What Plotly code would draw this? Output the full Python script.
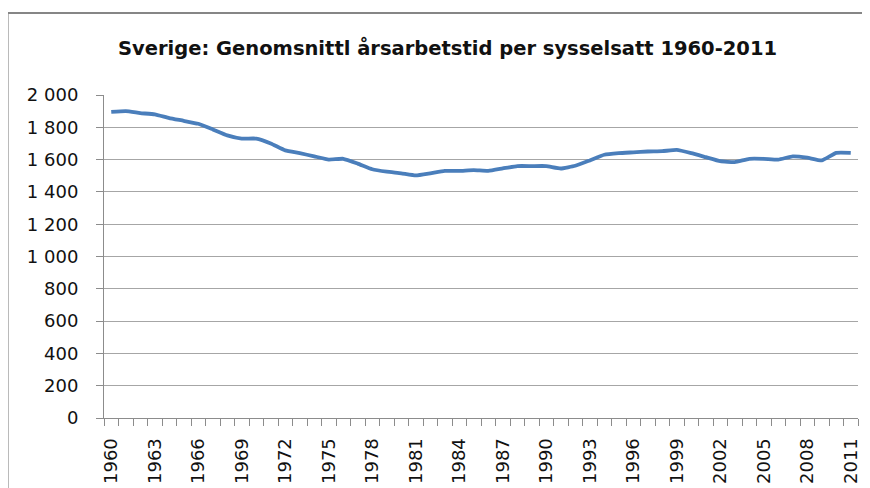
import plotly.graph_objects as go

years = list(range(1960, 2012))
hours = [1895, 1900, 1888, 1880, 1857, 1840, 1822, 1787, 1750, 1730,
         1730, 1700, 1657, 1640, 1620, 1600, 1605, 1575, 1540, 1525,
         1515, 1502, 1515, 1530, 1530, 1535, 1530, 1545, 1560, 1560,
         1560, 1545, 1562, 1595, 1630, 1640, 1645, 1650, 1652, 1660,
         1640, 1615, 1590, 1585, 1605, 1605, 1600, 1620, 1612, 1595,
         1642, 1642]
label_years = list(range(1960, 2012, 3))
y_ticks = list(range(0, 2001, 200))

title = "Sverige: Genomsnittl årsarbetstid per sysselsatt 1960-2011"

# page body has an 8px margin; work in page coordinates minus 8
OFF = 8
L, R, T, B = 103.5 - OFF, 858 - OFF, 95 - OFF, 418 - OFF
W, H = 870 - OFF, 488 - OFF

fig = go.Figure()
fig.add_trace(go.Scatter(x=years, y=hours, mode="lines",
                         line=dict(color="#4A7EBB", width=3.8, shape="spline", smoothing=0.4),
                         hoverinfo="x+y"))

font_main = "DejaVu Sans"
fig.update_layout(
    width=W, height=H,
    margin=dict(l=L, r=W - R, t=T, b=H - B, pad=0, autoexpand=False),
    paper_bgcolor="white", plot_bgcolor="white",
    showlegend=False,
    separators=", ",
    font=dict(family=font_main, size=18, color="#111111"),
    xaxis=dict(
        range=[1959.5, 2011.5], tickmode="array", tickvals=label_years,
        ticktext=[str(y) for y in label_years], automargin=False,
        tickangle=-90, ticks="", showgrid=False, zeroline=False,
        showline=True, linecolor="#8c8c8c", linewidth=1,
        ticklabelstandoff=12,
        tickfont=dict(family=font_main, size=18, color="#111111"),
        minor=dict(tickmode="linear", tick0=1959.5, dtick=1, ticks="outside",
                   ticklen=7, tickcolor="#8c8c8c", tickwidth=1, showgrid=False),
    ),
    yaxis=dict(
        range=[0, 2000], tickmode="array", tickvals=y_ticks, automargin=False,
        tickformat=",d", ticks="outside", ticklen=7, tickcolor="#8c8c8c",
        showgrid=True, gridcolor="#a6a6a6", gridwidth=1, zeroline=False,
        showline=True, linecolor="#8c8c8c", linewidth=1,
        ticklabelstandoff=14,
        tickfont=dict(family=font_main, size=18, color="#111111"),
    ),
    annotations=[dict(
        text="<b>" + title + "</b>", xref="paper", yref="paper",
        x=(447 - OFF - L) / (R - L), y=(B - (48 - OFF)) / (B - T),
        xanchor="center", yanchor="middle", showarrow=False,
        font=dict(family="DejaVu Sans", size=19.5, color="#111111"),
    )],
    shapes=[dict(
        type="rect", xref="paper", yref="paper", layer="below",
        x0=(7 - OFF - L) / (R - L), x1=(900 - L) / (R - L),
        y0=(B - 520) / (B - T), y1=(B - (13 - OFF)) / (B - T),
        line=dict(color="#868686", width=2), fillcolor="rgba(0,0,0,0)",
    )],
)

fig.write_html("out.html")
